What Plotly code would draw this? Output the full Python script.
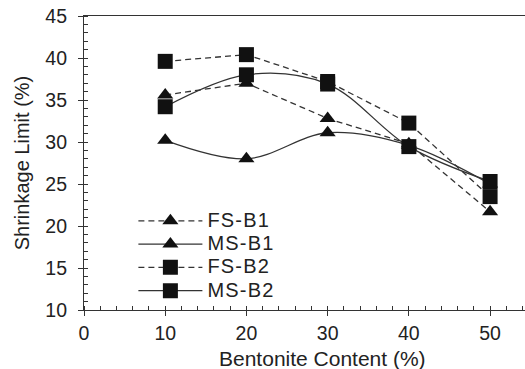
import plotly.graph_objects as go

bentonite = [10, 20, 30, 40, 50]
fs_b1 = [35.6, 37.0, 32.8, 29.8, 21.7]
ms_b1 = [30.2, 28.0, 31.1, 29.6, 25.0]
fs_b2 = [39.6, 40.4, 37.2, 32.25, 23.5]
ms_b2 = [34.2, 38.0, 36.9, 29.45, 25.3]

LINE = "#333333"
MK = "#111111"
FONT = "Liberation Sans, Arial, sans-serif"

fig = go.Figure()
series = [
    ("FS-B1", fs_b1, "triangle-up", "6px,4px", "linear", 14),
    ("MS-B1", ms_b1, "triangle-up", "solid", "spline", 14),
    ("FS-B2", fs_b2, "square", "6px,4px", "linear", 15),
    ("MS-B2", ms_b2, "square", "solid", "spline", 15),
]
for name, ys, sym, dash, shape, sz in series:
    fig.add_trace(go.Scatter(
        x=bentonite, y=ys,
        name="<span style='font-size:20px;letter-spacing:1.2px'>%s</span>" % name,
        mode="lines+markers",
        line=dict(color=LINE, width=1.3, dash=dash, shape=shape, smoothing=1),
        marker=dict(symbol=sym, size=sz, color=MK, line=dict(width=0)),
    ))

fig.update_layout(
    width=525, height=369,
    margin=dict(l=84, r=0, t=16, b=59),
    paper_bgcolor="white", plot_bgcolor="white",
    font=dict(family=FONT, size=19, color="#222222"),
    showlegend=True,
    legend=dict(
        x=0.112, y=0.36, xanchor="left", yanchor="top",
        bgcolor="rgba(0,0,0,0)", font=dict(size=15.6),
        itemwidth=64, tracegroupgap=0,
    ),
    annotations=[dict(
        text="Bentonite Content (%)", xref="paper", yref="paper",
        x=0.54, y=0, xanchor="center", yanchor="top", yshift=-35,
        showarrow=False, font=dict(size=21),
    )],
    xaxis=dict(
        range=[0, 54.3], tickvals=[0, 10, 20, 30, 40, 50],
        showgrid=False, zeroline=False,
        showline=True, linecolor=LINE, linewidth=1.2, mirror=True,
        ticks="outside", ticklen=5, tickcolor=LINE, tickwidth=1,
        minor=dict(dtick=2, ticks="inside", ticklen=4, tickcolor=LINE, tickwidth=1),
        tickfont=dict(size=19.5),
    ),
    yaxis=dict(
        range=[10, 45], tickvals=[10, 15, 20, 25, 30, 35, 40, 45],
        showgrid=False, zeroline=False,
        showline=True, linecolor=LINE, linewidth=1.2,
        ticks="outside", ticklen=5, tickcolor=LINE, tickwidth=1,
        ticklabelstandoff=7,
        minor=dict(dtick=1, ticks="inside", ticklen=4, tickcolor=LINE, tickwidth=1),
        title=dict(text="Shrinkage Limit (%)", standoff=10, font=dict(size=20)),
        tickfont=dict(size=19.5),
    ),
)

fig.write_html("out.html")
